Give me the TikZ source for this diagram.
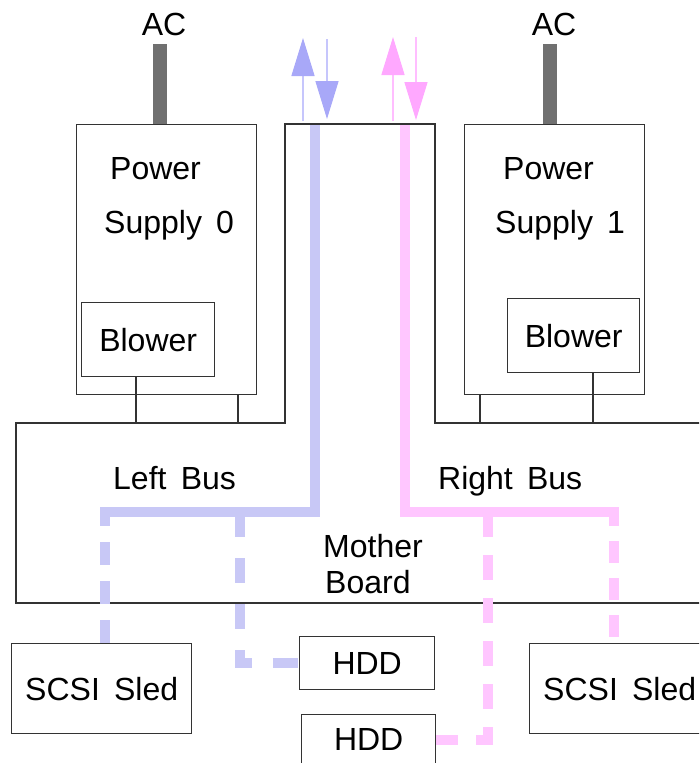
\documentclass[tikz,border=0pt]{standalone}
\usepackage{fontspec}
\setmainfont[WordSpace=1.6]{Liberation Sans}
\usepackage{xcolor}
\usetikzlibrary{arrows.meta}

\definecolor{busblue}{RGB}{200,200,246}
\definecolor{buspink}{RGB}{255,198,255}
\definecolor{headblue}{RGB}{168,168,248}
\definecolor{headpink}{RGB}{255,168,255}
\definecolor{shaftblue}{RGB}{198,198,252}
\definecolor{shaftpink}{RGB}{255,190,255}
\definecolor{acgray}{RGB}{112,112,112}

\begin{document}
\begin{tikzpicture}[
    x=1pt, y=-1pt,
    every node/.style={font=\fontsize{32}{38}\selectfont, inner sep=0pt},
    wire/.style={draw=black!80, line width=1.4pt},
    box/.style={
        rectangle, draw=black!80, line width=1.4pt, anchor=north west
    },
    acbar/.style={draw=acgray, line width=14pt},
    lbus/.style={draw=busblue, line width=10pt, line join=miter},
    rbus/.style={draw=buspink, line width=10pt, line join=miter},
    upblue/.style={draw=shaftblue, line width=1.5pt,
        -{Triangle[length=38pt, width=23pt, color=headblue]}},
    uppink/.style={draw=shaftpink, line width=1.5pt,
        -{Triangle[length=38pt, width=23pt, color=headpink]}}
]
\useasboundingbox (0,0) rectangle (699,763);
\clip (0,0) rectangle (699,763);

% --- Power supplies with their blowers
\node[box, minimum width=180pt, minimum height=270pt] (ps0) at (76,124) {};
\node[box, minimum width=180pt, minimum height=270pt] (ps1) at (464,124) {};
\node[box, minimum width=133pt, minimum height=74pt] (blw0) at (81,302) {Blower};
\node[box, minimum width=132pt, minimum height=74pt] (blw1) at (507,298) {Blower};

\node[anchor=base west] (pwr0) at (110,179) {Power};
\node[anchor=base west] (sup0) at (104,233) {Supply 0};
\node[anchor=base west] (pwr1) at (503,179) {Power};
\node[anchor=base west] (sup1) at (495,233) {Supply 1};

% AC feeds
\node[anchor=base] (ac0) at (164,35) {AC};
\node[anchor=base] (ac1) at (554,35) {AC};
\draw[acbar] ([xshift=-4pt, yshift=-9pt]ac0.base) -- ([xshift=-4pt]ac0.base |- ps0.north);
\draw[acbar] ([xshift=-4pt, yshift=-9pt]ac1.base) -- ([xshift=-4pt]ac1.base |- ps1.north);

% --- Mother board outline
\coordinate (mbtop) at (0,423);
\draw[wire] (710,423) -- (435,423) -- (435,124) -- (285,124)
    -- (285,423) -- (16,423) -- (16,603) -- (710,603);
\node[anchor=base west] (mb0) at (323,557) {Mother};
\node[anchor=base west] (mb1) at (325,593) {Board};
\node[anchor=base west] (lbus) at (113,489) {Left Bus};
\node[anchor=base west] (rbus) at (438,489) {Right Bus};

% supply and blower taps onto the board
\draw[wire] (136,0 |- blw0.south) -- (136,0 |- mbtop);
\draw[wire] (238,0 |- ps0.south) -- (238,0 |- mbtop);
\draw[wire] (480,0 |- ps1.south) -- (480,0 |- mbtop);
\draw[wire] (593,0 |- blw1.south) -- (593,0 |- mbtop);

% --- Drives
\node[box, minimum width=180pt, minimum height=90pt] (scsi0) at (11,643) {SCSI Sled};
\node[box, minimum width=180pt, minimum height=90pt] (scsi1) at (529,643) {SCSI Sled};
\node[box, minimum width=135pt, minimum height=53pt] (hdda) at (299,636) {HDD};
\node[box, minimum width=134pt, minimum height=50pt] (hddb) at (301,714) {HDD};

% --- Left bus (blue)
\draw[lbus] (315,125) |- (105,512);
\draw[lbus, dash pattern=on 23pt off 16pt, dash phase=4pt]
    (105,507) -- (105,0 |- scsi0.north);
\draw[lbus, dash pattern=on 25pt off 21pt] (240,512) |- (hdda.west);

% --- Right bus (pink)
\draw[rbus] (405,125) |- (614,512);
\draw[rbus, dash pattern=on 22pt off 15pt, dash phase=3pt]
    (614,507) -- (614,0 |- scsi1.north);
\draw[rbus, dash pattern=on 25pt off 18pt] (488,512) |- (hddb.east);

% --- External link arrows
\coordinate (lin0) at (303,121);   \coordinate (lin1) at (303,38);
\coordinate (lout0) at (327,39);   \coordinate (lout1) at (327,119);
\coordinate (rin0) at (393,121);   \coordinate (rin1) at (393,37);
\coordinate (rout0) at (416,37);   \coordinate (rout1) at (416,120);
\draw[upblue] (lin0) -- (lin1);
\draw[upblue] (lout0) -- (lout1);
\draw[uppink] (rin0) -- (rin1);
\draw[uppink] (rout0) -- (rout1);
\end{tikzpicture}
\end{document}
